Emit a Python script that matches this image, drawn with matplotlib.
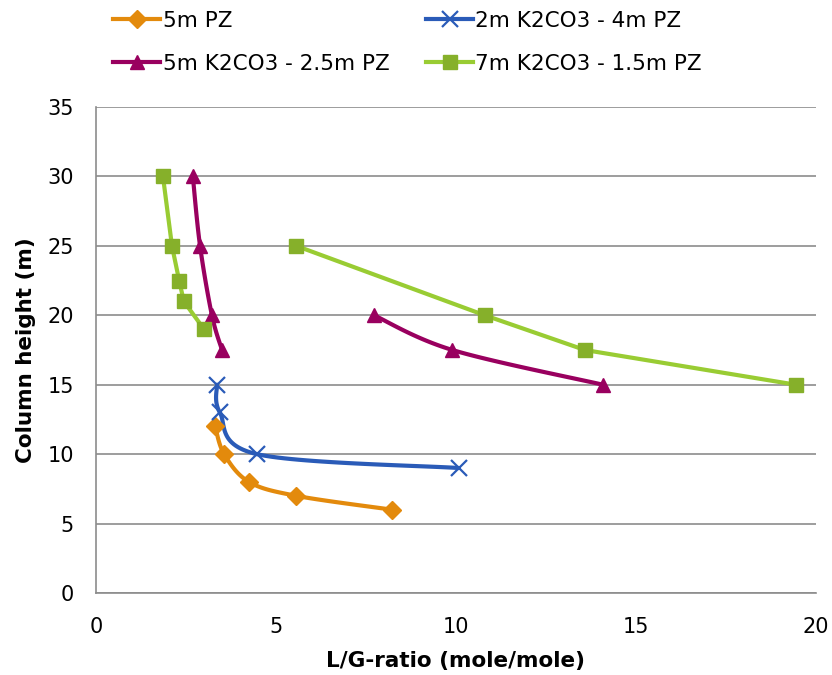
import numpy as np
import matplotlib
matplotlib.use('Agg')
import matplotlib.pyplot as plt
from matplotlib.lines import Line2D

# L/G-ratio (x) and column height (y) for each solvent
pz5_x = [3.31, 3.56, 4.25, 5.56, 8.22]
pz5_y = [12, 10, 8, 7, 6]

k2_pz4_x = [3.36, 3.44, 4.47, 10.08]
k2_pz4_y = [15, 13, 10, 9]

# 5m K2CO3 - 2.5m PZ, two branches
k5_a_x = [2.69, 2.89, 3.22, 3.50]
k5_a_y = [30, 25, 20, 17.5]
k5_b_x = [7.72, 9.90, 14.08]
k5_b_y = [20, 17.5, 15]

# 7m K2CO3 - 1.5m PZ, two branches
k7_a_x = [1.86, 2.11, 2.31, 2.44, 3.00]
k7_a_y = [30, 25, 22.5, 21, 19]
k7_b_x = [5.56, 10.80, 13.58, 19.44]
k7_b_y = [25, 20, 17.5, 15]

labels = ['5m PZ', '2m K2CO3 - 4m PZ', '5m K2CO3 - 2.5m PZ', '7m K2CO3 - 1.5m PZ']
colors = ['#E38A0C', '#2A5BB8', '#99005F', '#99CC33']
edge_colors = ['#E38A0C', '#2A5BB8', '#99005F', '#86B02A']
markers = ['D', 'x', '^', 's']
msizes = [9, 11, 10, 10]
smoothed = [True, True, True, False]


def smooth(x, y, n=30):
    """Bezier curve through the points, like a spreadsheet smoothed line."""
    p = np.column_stack([x, y]).astype(float)
    if len(p) < 3:
        return p[:, 0], p[:, 1]
    out = []
    for i in range(len(p) - 1):
        p0 = p[i - 1] if i > 0 else p[i]
        p1, p2 = p[i], p[i + 1]
        p3 = p[i + 2] if i + 2 < len(p) else p[i + 1]
        c1 = p1 + (p2 - p0) / 6.0
        c2 = p2 - (p3 - p1) / 6.0
        t = np.linspace(0, 1, n)[:, None]
        seg = ((1 - t) ** 3) * p1 + 3 * ((1 - t) ** 2) * t * c1 \
            + 3 * (1 - t) * t ** 2 * c2 + t ** 3 * p2
        out.append(seg if i == 0 else seg[1:])
    out = np.vstack(out)
    return out[:, 0], out[:, 1]


plt.rcParams['font.family'] = ['DejaVu Sans']
fig = plt.figure(figsize=(8.32, 6.75), dpi=100)
ax = fig.add_axes([96 / 832, 1 - 593 / 675, 720 / 832, 486 / 675])

series = [
    (0, [(pz5_x, pz5_y)]),
    (1, [(k2_pz4_x, k2_pz4_y)]),
    (2, [(k5_a_x, k5_a_y), (k5_b_x, k5_b_y)]),
    (3, [(k7_a_x, k7_a_y), (k7_b_x, k7_b_y)]),
]
for idx, branches in series:
    for bx, by in branches:
        if smoothed[idx]:
            sx, sy = smooth(bx, by)
        else:
            sx, sy = bx, by
        ax.plot(sx, sy, color=colors[idx], lw=3.0, zorder=3,
                solid_capstyle='round', solid_joinstyle='round')
        if markers[idx] == 'x':
            ax.plot(bx, by, ls='none', marker='x', ms=msizes[idx],
                    mew=1.6, color=colors[idx], zorder=4)
        else:
            ax.plot(bx, by, ls='none', marker=markers[idx], ms=msizes[idx],
                    mfc=edge_colors[idx], mec=edge_colors[idx], zorder=4)

ax.set_xlim(0, 20)
ax.set_ylim(0, 35)
ax.set_xticks(np.arange(0, 21, 5))
ax.set_yticks(np.arange(0, 36, 5))
ax.grid(axis='y', color='#8C8C8C', lw=1.2)
ax.set_axisbelow(True)
for s in ['top', 'right']:
    ax.spines[s].set_visible(False)
for s in ['left', 'bottom']:
    ax.spines[s].set_color('#8C8C8C')
    ax.spines[s].set_linewidth(1.2)
ax.tick_params(length=0, labelsize=15)
ax.tick_params(axis='y', pad=16)
ax.tick_params(axis='x', pad=17)
ax.set_xlabel('L/G-ratio (mole/mole)', fontsize=15.5, fontweight='bold', labelpad=10)
ax.set_ylabel('Column height (m)', fontsize=15.5, fontweight='bold', labelpad=8)

handles = []
for i in range(4):
    if markers[i] == 'x':
        h = Line2D([], [], color=colors[i], lw=3.0, marker='x', ms=msizes[i],
                   mew=1.6)
    else:
        h = Line2D([], [], color=colors[i], lw=3.0, marker=markers[i],
                   ms=msizes[i], mfc=edge_colors[i], mec=edge_colors[i])
    handles.append(h)
# legend fills column-first, so reorder to read row by row
order = [0, 2, 1, 3]
fig.legend([handles[i] for i in order], [labels[i] for i in order],
           loc='upper left', bbox_to_anchor=(113 / 832, 1 - 11 / 675),
           ncol=2, frameon=False, fontsize=15.5, handlelength=2.2,
           handletextpad=0.1, columnspacing=1.7, labelspacing=1.05,
           borderpad=0, borderaxespad=0)

fig.savefig('out.png', dpi=100)
